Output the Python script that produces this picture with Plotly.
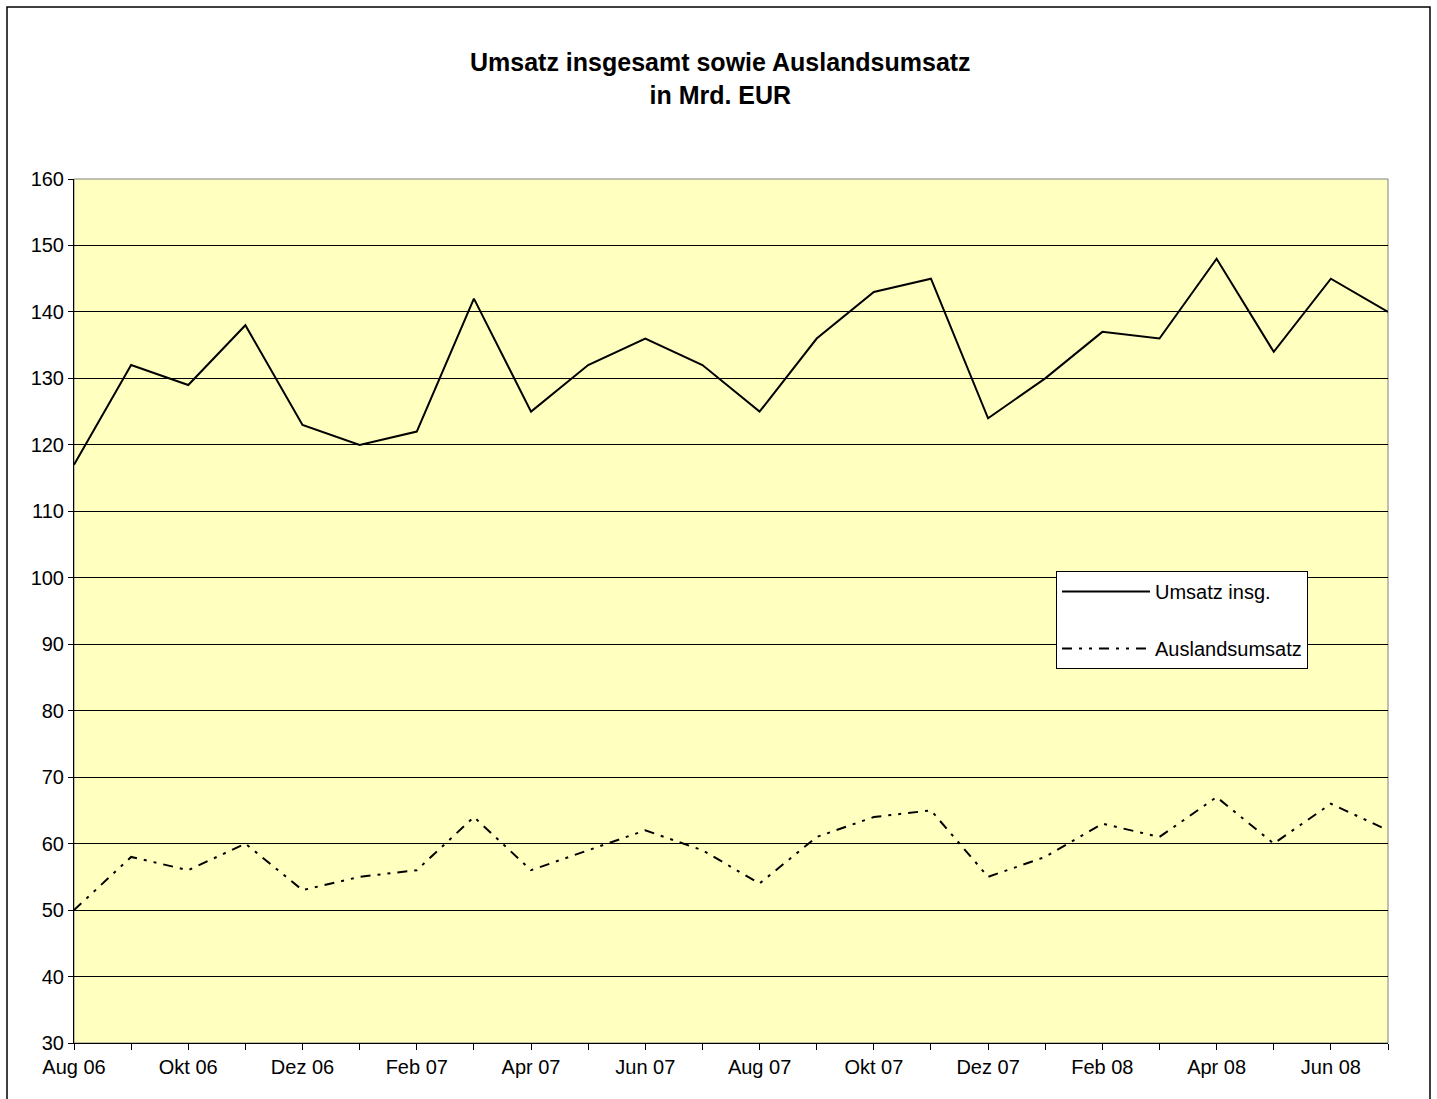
import plotly.graph_objects as go

months = ["Aug 06", "Sep 06", "Okt 06", "Nov 06", "Dez 06", "Jan 07", "Feb 07", "Mrz 07",
          "Apr 07", "Mai 07", "Jun 07", "Jul 07", "Aug 07", "Sep 07", "Okt 07", "Nov 07",
          "Dez 07", "Jan 08", "Feb 08", "Mrz 08", "Apr 08", "Mai 08", "Jun 08", "Jul 08"]
umsatz = [117, 132, 129, 138, 123, 120, 122, 142, 125, 132, 136, 132,
          125, 136, 143, 145, 124, 130, 137, 136, 148, 134, 145, 140]
ausland = [50, 58, 56, 60, 53, 55, 56, 64, 56, 59, 62, 59,
           54, 61, 64, 65, 55, 58, 63, 61, 67, 60, 66, 62]
yticks = list(range(30, 161, 10))

x = list(range(len(months)))
ticktext = [m if i % 2 == 0 else "" for i, m in enumerate(months)]

FONT = "Arial, Liberation Sans, sans-serif"

fig = go.Figure()
fig.add_trace(go.Scatter(x=x, y=umsatz, mode="lines", name="Umsatz insg.",
                         line=dict(color="black", width=2), legendgroup="a"))
fig.add_trace(go.Scatter(x=x, y=ausland, mode="lines", name="Auslandsumsatz",
                         line=dict(color="black", width=2, dash="10px,7px,3px,7px,3px,7px"),
                         legendgroup="b"))

fig.update_layout(
    width=1437, height=1099,
    margin=dict(l=74, r=49, t=179, b=56),
    paper_bgcolor="white",
    plot_bgcolor="#FFFFC0",
    font=dict(family=FONT, size=20, color="black"),
    showlegend=True,
    legend=dict(x=(1056 - 74) / 1314, y=(1043 - 571) / 864, xanchor="left", yanchor="top",
                bgcolor="white", bordercolor="black", borderwidth=1,
                font=dict(family=FONT, size=20, color="black"),
                tracegroupgap=28, itemwidth=88, traceorder="grouped"),
    xaxis=dict(range=[0, 23], tickmode="array", tickvals=x, ticktext=ticktext,
               ticks="outside", ticklen=6, tickcolor="black", showgrid=False,
               showline=True, linecolor="black", linewidth=1, zeroline=False,
               fixedrange=True, tickfont=dict(size=20)),
    yaxis=dict(range=[30, 160], tickmode="array", tickvals=yticks,
               ticks="outside", ticklen=5, tickcolor="black",
               showgrid=True, gridcolor="black", gridwidth=1,
               showline=True, linecolor="black", linewidth=1, zeroline=False,
               fixedrange=True, tickfont=dict(size=20)),
    annotations=[dict(text="<b>Umsatz insgesamt sowie Auslandsumsatz<br>in Mrd. EUR</b>",
                      xref="paper", yref="paper", x=(720 - 74) / 1314, y=(1043 - 78) / 864,
                      xanchor="center", yanchor="middle", showarrow=False,
                      font=dict(family=FONT, size=25, color="black"))],
    shapes=[
        dict(type="rect", xref="paper", yref="paper", x0=0, x1=1, y0=0, y1=1,
             line=dict(color="#808080", width=1), layer="below"),
        dict(type="rect", xref="paper", yref="paper",
             x0=(7 - 74) / 1314, x1=(1430 - 74) / 1314,
             y0=(1043 - 1110) / 864, y1=(1043 - 7) / 864,
             line=dict(color="black", width=1.5)),
    ],
)

fig.write_html("out.html", config={"displayModeBar": False},
               post_script="document.body.style.margin='0';")
